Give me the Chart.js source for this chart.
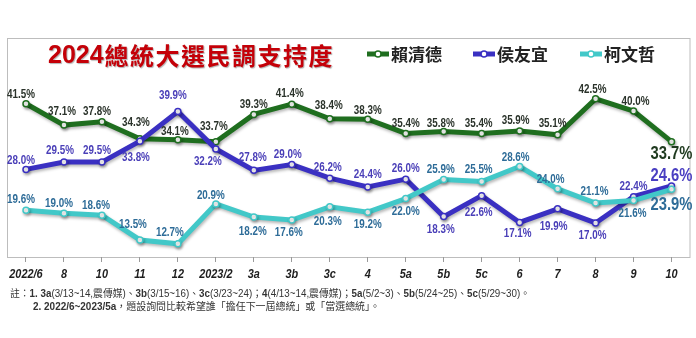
<!DOCTYPE html>
<html lang="zh-Hant">
<head>
<meta charset="UTF-8">
<title>2024總統大選民調支持度</title>
<script src="https://cdn.jsdelivr.net/npm/chart.js@4.4.1/dist/chart.umd.min.js"></script>
<style>
  html, body { margin: 0; padding: 0; background: #fff; }
  #wrap { width: 696px; height: 338px; position: relative; }
</style>
</head>
<body>
<div id="wrap"><canvas id="poll" width="696" height="338"></canvas></div>
<script>
  // poll rounds (x axis)
  const labels = ['2022/6', '8', '10', '11', '12', '2023/2', '3a', '3b', '3c', '4', '5a', '5b', '5c', '6', '7', '8', '9', '10'];
  // support, percent
  const lai = [41.5, 37.1, 37.8, 34.3, 34.1, 33.7, 39.3, 41.4, 38.4, 38.3, 35.4, 35.8, 35.4, 35.9, 35.1, 42.5, 40.0, 33.7];
  const hou = [28.0, 29.5, 29.5, 33.8, 39.9, 32.2, 27.8, 29.0, 26.2, 24.4, 26.0, 18.3, 22.6, 17.1, 19.9, 17.0, 22.4, 24.6];
  const ko = [19.6, 19.0, 18.6, 13.5, 12.7, 20.9, 18.2, 17.6, 20.3, 19.2, 22.0, 25.9, 25.5, 28.6, 24.0, 21.1, 21.6, 23.9];
  const names = ['賴清德', '侯友宜', '柯文哲'];
  const titleText = ['2024', '總統大選民調支持度'];

  // where each value label sits relative to its point [dx, dy]
  const laiLabelPos = [[-5,-9],[-2,-13],[-5,-10],[-4,-16],[-3,-8],[-2,-15],[0,-10],[-2,-10],[-1,-13],[0,-9],[0,-10],[-3,-8],[-3,-10],[-4,-10],[-5,-11],[-3,-9],[2,-9],[0,12]];
  const houLabelPos = [[-5,-9],[-4,-11],[-5,-11],[-4,17],[-5,-16],[-8,13],[-1,-13],[-4,-10],[-2,-10],[0,-12],[0,-10],[-3,13],[-3,17],[-2,11],[-4,18],[-3,13],[0,-10],[0,-10]];
  const koLabelPos = [[-5,-11],[-5,-10],[-6,-9],[-7,-15],[-8,-11],[-5,-8],[-1,15],[-3,13],[-2,15],[0,12],[0,13],[-3,-10],[-3,-12],[-4,-9],[-7,-9],[-1,-11],[-1,13],[0,16]];

  const lineColors = ['#1f6e1f', '#3a30c2', '#42c8c8'];
  const labelColors = ['#2b332b', '#4a3fb8', '#2e6c98'];
  const lastColors = ['#1f3a1f', '#4a3fc2', '#2e6c98'];

  const sans = '"Liberation Sans", Arial, sans-serif';
  const cjk = '"Noto Sans CJK TC", "Noto Sans CJK SC", sans-serif';

  const notes = [
    { x: 10, y: 294, w: 520, parts: [
      ['註：', 0], ['1. 3a', 1], ['(3/13~14,', 0], ['震傳媒', 0], [')、', 0], ['3b', 1], ['(3/15~16)、', 0],
      ['3c', 1], ['(3/23~24)；', 0], ['4', 1], ['(4/13~14,', 0], ['震傳媒', 0], [')；', 0],
      ['5a', 1], ['(5/2~3)、', 0], ['5b', 1], ['(5/24~25)、', 0], ['5c', 1], ['(5/29~30)。', 0]] },
    { x: 33, y: 307, w: 347, parts: [
      ['2. 2022/6~2023/5a', 1], ['，題設詢問比較希望誰「擔任下一屆總統」或「當選總統」。', 0]] }
  ];

  // condensed text, like the narrow face of the original
  function narrowText(ctx, text, x, y, squeeze) {
    ctx.save();
    ctx.translate(x, y);
    ctx.scale(squeeze, 1);
    ctx.fillText(text, 0, 0);
    ctx.restore();
  }

  const frameAndText = {
    id: 'frameAndText',
    beforeDraw(chart) {
      const { ctx, chartArea: a } = chart;
      ctx.save();
      ctx.strokeStyle = '#bdbdbd';
      ctx.lineWidth = 1;
      ctx.strokeRect(a.left + 0.5, a.top + 0.5, a.right - a.left - 1, a.bottom - a.top);
      ctx.restore();
    },
    afterDraw(chart) {
      const ctx = chart.ctx;
      ctx.save();
      // x tick labels
      const xs = chart.scales.x;
      ctx.textAlign = 'center';
      ctx.textBaseline = 'middle';
      ctx.fillStyle = '#1e1e1e';
      ctx.font = 'italic bold 13px ' + sans;
      labels.forEach((l, i) => narrowText(ctx, l, xs.getPixelForTick(i), 274, 0.84));

      // title
      ctx.textAlign = 'left';
      ctx.shadowColor = 'rgba(0,0,0,0.3)';
      ctx.shadowOffsetX = 1;
      ctx.shadowOffsetY = 1;
      ctx.shadowBlur = 1;
      ctx.fillStyle = '#c40008';
      ctx.font = 'bold 25px ' + sans;
      ctx.fillText(titleText[0], 48, 56);
      const w0 = ctx.measureText(titleText[0]).width;
      ctx.font = 'bold 24px ' + cjk;
      ctx.letterSpacing = '1.5px';
      ctx.fillText(titleText[1], 48 + w0 + 1, 56);
      ctx.letterSpacing = '0px';
      ctx.shadowColor = 'transparent';

      // legend
      const legX = [367, 473, 580];
      names.forEach((n, i) => {
        const x = legX[i], y = 54;
        ctx.strokeStyle = lineColors[i];
        ctx.lineWidth = 5;
        ctx.beginPath();
        ctx.moveTo(x, y);
        ctx.lineTo(x + 22, y);
        ctx.stroke();
        ctx.fillStyle = '#fff';
        ctx.lineWidth = 1.5;
        ctx.beginPath();
        ctx.arc(x + 11, y, 3, 0, Math.PI * 2);
        ctx.fill();
        ctx.stroke();
        ctx.fillStyle = '#222';
        ctx.font = 'bold 17px ' + cjk;
        ctx.fillText(n, x + 24, y + 1);
      });

      // footnotes
      ctx.fillStyle = '#333';
      notes.forEach(line => {
        let total = 0;
        line.parts.forEach(p => {
          ctx.font = (p[1] ? 'bold ' : '') + '10px ' + sans + ', ' + cjk;
          total += ctx.measureText(p[0]).width;
        });
        ctx.save();
        ctx.translate(line.x, line.y);
        ctx.scale(line.w / total, 1);
        let cx = 0;
        line.parts.forEach(p => {
          ctx.font = (p[1] ? 'bold ' : '') + '10px ' + sans + ', ' + cjk;
          ctx.fillText(p[0], cx, 0);
          cx += ctx.measureText(p[0]).width;
        });
        ctx.restore();
      });
      ctx.restore();
    }
  };

  const lineShadow = {
    id: 'lineShadow',
    beforeDatasetDraw(chart) {
      const ctx = chart.ctx;
      ctx.save();
      ctx.shadowColor = 'rgba(0,0,0,0.28)';
      ctx.shadowBlur = 3;
      ctx.shadowOffsetX = 1;
      ctx.shadowOffsetY = 2;
    },
    afterDatasetDraw(chart) {
      chart.ctx.restore();
    }
  };

  const valueLabels = {
    id: 'valueLabels',
    afterDatasetsDraw(chart) {
      const ctx = chart.ctx;
      const pos = [laiLabelPos, houLabelPos, koLabelPos];
      ctx.save();
      ctx.textAlign = 'center';
      ctx.textBaseline = 'middle';
      chart.data.datasets.forEach((ds, i) => {
        const meta = chart.getDatasetMeta(i);
        meta.data.forEach((pt, j) => {
          const last = j === ds.data.length - 1;
          ctx.font = last ? 'bold 18px ' + sans : 'bold 12px ' + sans;
          ctx.fillStyle = last ? lastColors[i] : labelColors[i];
          narrowText(ctx, ds.data[j].toFixed(1) + '%', pt.x + pos[i][j][0], pt.y + pos[i][j][1], 0.82);
        });
      });
      ctx.restore();
    }
  };

  function series(label, data, color, order) {
    return {
      label: label,
      data: data,
      order: order,
      borderColor: color,
      backgroundColor: '#fff',
      borderWidth: 5,
      pointRadius: 3,
      pointBorderWidth: 1.5,
      pointBorderColor: color,
      pointBackgroundColor: '#fff',
      tension: 0
    };
  }

  new Chart(document.getElementById('poll'), {
    type: 'line',
    data: {
      labels: labels,
      datasets: [
        series(names[0], lai, lineColors[0], 3),
        series(names[1], hou, lineColors[1], 2),
        series(names[2], ko, lineColors[2], 1)
      ]
    },
    options: {
      responsive: false,
      animation: false,
      layout: { padding: { top: 38, left: 7, right: 5, bottom: 57 } },
      plugins: { legend: { display: false }, tooltip: { enabled: false } },
      scales: {
        x: {
          offset: true,
          afterFit(scale) { scale.height = 24; },
          border: { display: false },
          grid: { drawOnChartArea: false, drawTicks: true, tickLength: 5, color: '#9a9a9a' },
          ticks: {
            color: 'rgba(0,0,0,0)',
            padding: 3,
            maxRotation: 0,
            autoSkip: false,
            font: { family: sans, size: 13, weight: 'bold', style: 'italic' }
          }
        },
        y: { display: false, min: 10, max: 55 }
      }
    },
    plugins: [frameAndText, lineShadow, valueLabels]
  });
</script>
</body>
</html>
